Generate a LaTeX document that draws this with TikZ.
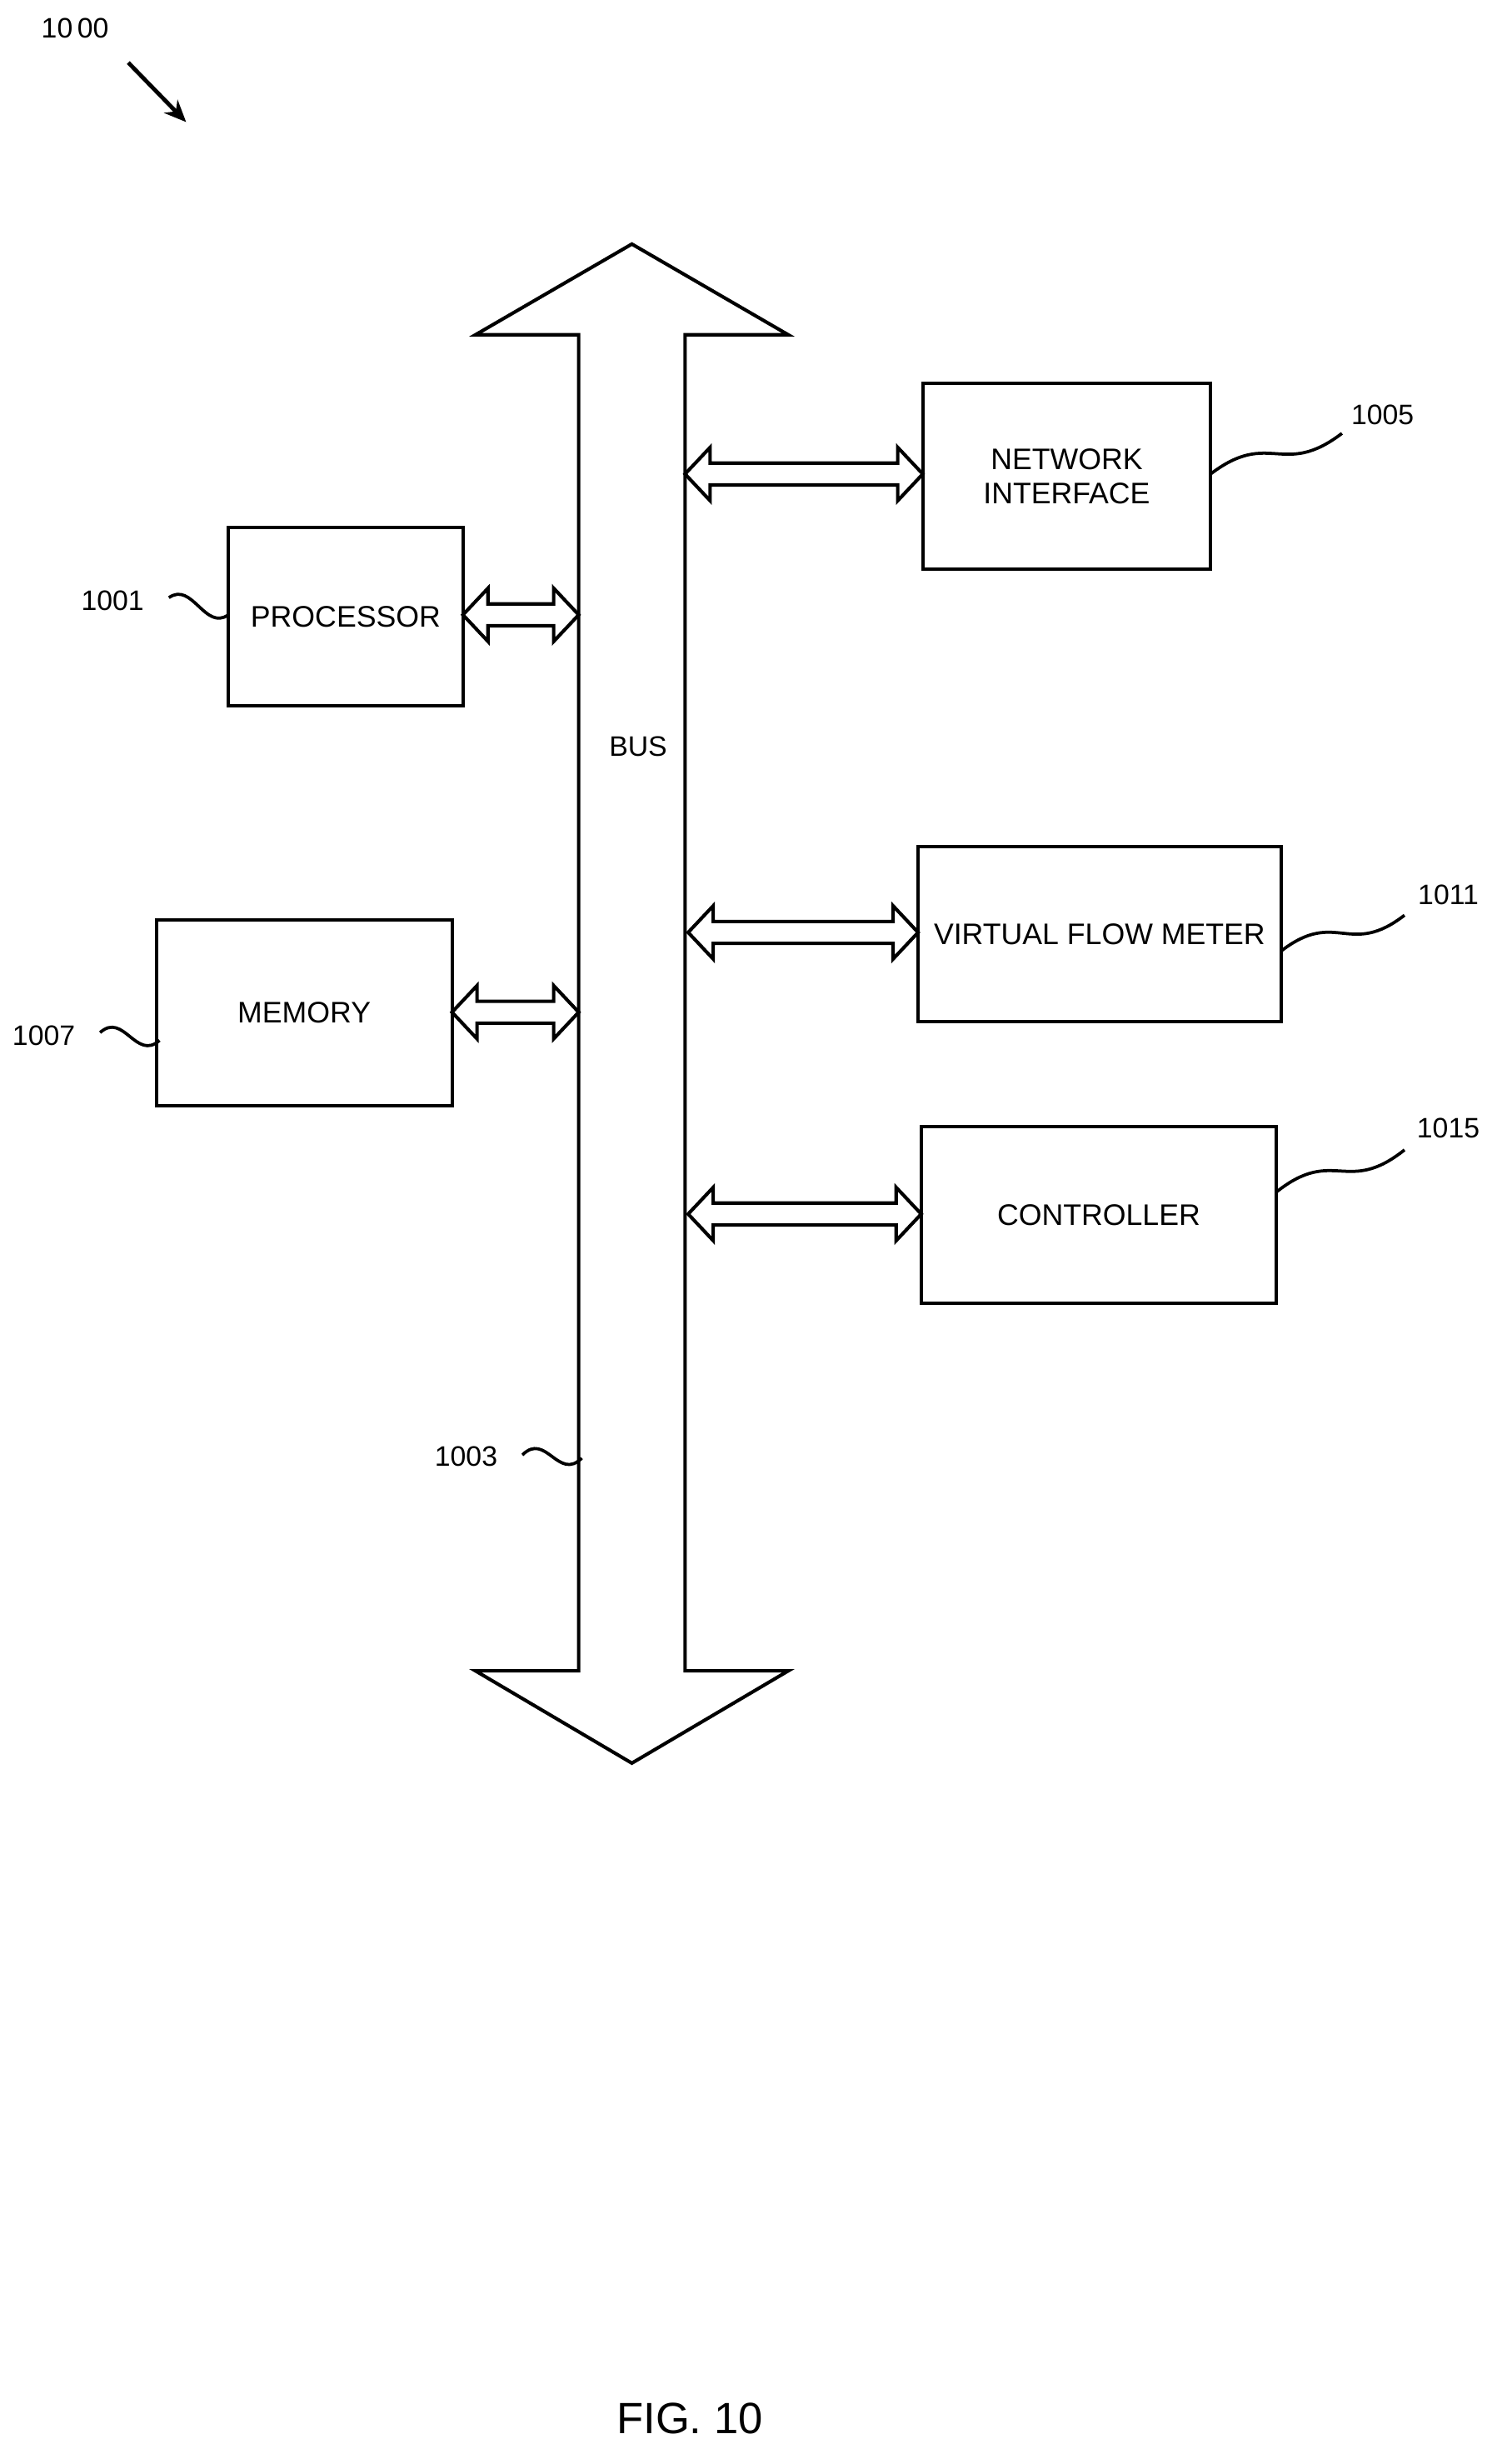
\documentclass[tikz,border=0pt]{standalone}
\usepackage{fontspec}
\setmainfont{Liberation Sans}
\usetikzlibrary{calc,arrows.meta}
\begin{document}
\begin{tikzpicture}[x=1pt,y=-1pt,line width=2.2pt,
  box/.style={draw,inner sep=0,font=\fontsize{19}{22}\selectfont,align=center},
  lbl/.style={font=\fontsize{18}{20}\selectfont},
  sq/.style={line width=2pt}]
\useasboundingbox (0,0) rectangle (960,1575);
\newcommand\squig[2]{\draw[sq] (#1) .. controls ($(#1)!.5!(#2)+(-4,-16)$) and ($(#1)!.5!(#2)+(4,16)$) .. (#2);}
\newcommand\dbl[3]{\draw[fill=white] (#1,#3) -- ++(16,-17) -- ++(0,10) -- (#2-16,#3-7) -- ++(0,-10) -- (#2,#3) -- ++(-16,17) -- ++(0,-10) -- (#1+16,#3+7) -- ++(0,10) -- cycle;}
% title
\node[lbl] (t) at (48,18) {10\,00};
\coordinate (ta) at (82,40); \coordinate (tb) at (119,78);
\draw[-{Stealth[length=14pt,width=12pt]},line width=2.6pt] (ta) -- (tb);
% bus
\draw (404,156) -- (504,214) -- (438,214) -- (438,1068) -- (504,1068) -- (404,1127) -- (304,1068) -- (370,1068) -- (370,214) -- (304,214) -- cycle;
\node[lbl] (bus) at (408,477) {BUS};
% boxes
\node[box,minimum width=184,minimum height=119] (ni) at (682,304.5) {NETWORK\\INTERFACE};
\node[box,minimum width=150,minimum height=114] (pr) at (221,394) {PROCESSOR};
\node[box,minimum width=189,minimum height=119] (me) at (194.5,647.5) {MEMORY};
\node[box,minimum width=232,minimum height=112] (vf) at (703,597) {VIRTUAL FLOW METER};
\node[box,minimum width=227,minimum height=113] (co) at (702.5,776.5) {CONTROLLER};
% double arrows
\dbl{296}{370}{393}
\dbl{289}{370}{647}
\dbl{438}{590}{303}
\dbl{440}{587}{596}
\dbl{440}{589}{776}
% labels & squiggles
\node[lbl] (l1005) at (884,265) {1005}; \coordinate (a1) at (774,303); \coordinate (b1) at (858,277); \squig{a1}{b1}
\node[lbl] (l1001) at (72,384) {1001}; \coordinate (a2) at (108,382); \coordinate (b2) at (146,393); \squig{a2}{b2}
\node[lbl] (l1007) at (28,662) {1007}; \coordinate (a3) at (64,660); \coordinate (b3) at (102,665); \squig{a3}{b3}
\node[lbl] (l1011) at (926,572) {1011}; \coordinate (a4) at (819,608); \coordinate (b4) at (898,585); \squig{a4}{b4}
\node[lbl] (l1015) at (926,721) {1015}; \coordinate (a5) at (816,762); \coordinate (b5) at (898,735); \squig{a5}{b5}
\node[lbl] (l1003) at (298,931) {1003}; \coordinate (a6) at (334,930); \coordinate (b6) at (372,932); \squig{a6}{b6}
\node[font=\fontsize{28}{30}\selectfont] (fig) at (441,1546) {FIG. 10};
\end{tikzpicture}
\end{document}
